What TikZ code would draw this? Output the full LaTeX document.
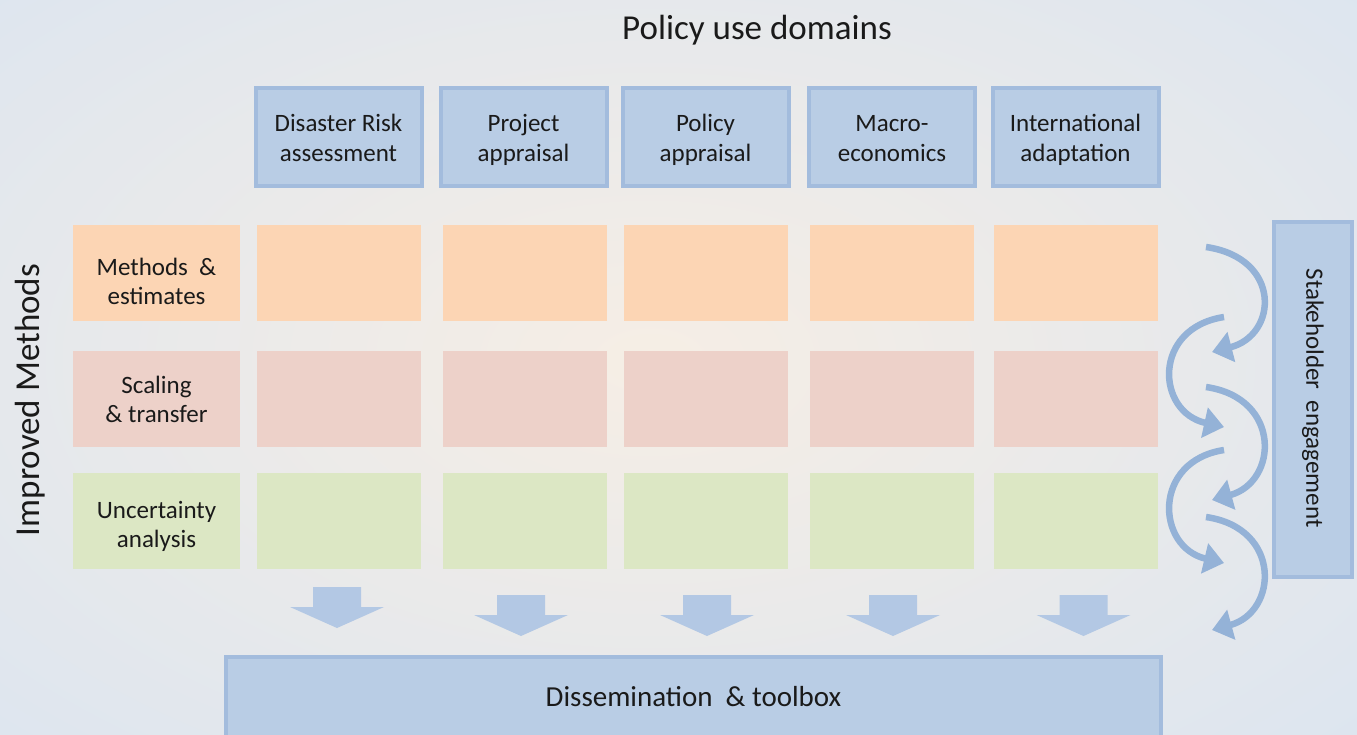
\documentclass[tikz,border=0pt]{standalone}
\usepackage{fontspec}
\setmainfont{Carlito}
\usetikzlibrary{arrows.meta}
\definecolor{bg}{HTML}{D9E4F1}
\definecolor{glow}{HTML}{F6EEE5}
\definecolor{boxfill}{HTML}{B9CDE5}
\definecolor{boxedge}{HTML}{A3BCDD}
\definecolor{orangec}{HTML}{FCD5B4}
\definecolor{pinkc}{HTML}{EDD1C9}
\definecolor{greenc}{HTML}{DCE7C4}
\definecolor{arrowc}{HTML}{B3C8E4}
\definecolor{curvec}{HTML}{94B2D7}
\definecolor{txt}{HTML}{1A1A1A}
\newcommand{\topstrut}{\rule{0pt}{29pt}}
\tikzset{
  bluebox/.style={fill=boxfill, draw=boxedge, line width=4pt, inner sep=0pt, align=center, text=txt},
  domainbox/.style={bluebox, minimum width=166pt, minimum height=98pt, font=\fontsize{25}{30}\selectfont},
  cellbox/.style={minimum width=164pt, minimum height=96pt, inner sep=0pt},
  rowlabel/.style={cellbox, minimum width=167pt},
  rowtext/.style={align=center, text=txt, inner sep=0pt, font=\fontsize{25}{29}\selectfont},
  downarrow/.style={fill=arrowc},
  curvedarrow/.style={draw=curvec, line width=6.5pt, -{Triangle[length=20pt,width=30pt]}}
}
\begin{document}
\begin{tikzpicture}[x=1pt,y=-1pt]
\useasboundingbox (0,0) rectangle (1357,734);
\fill[bg] (0,0) rectangle (1357,734);
\begin{scope}
\clip (0,0) rectangle (1357,734);
\shade[inner color=glow, outer color=bg] (650,360) ellipse (1100 and 640);
\end{scope}

% titles
\node[text=txt, font=\fontsize{35}{40}\selectfont] (title) at (757,30) {Policy use domains};
\node[text=txt, font=\fontsize{35}{40}\selectfont, rotate=90] (improved) at (30,400) {Improved Methods};

% domain boxes
\node[domainbox] (d1) at (338.5,136.5) {\topstrut Disaster Risk\\assessment\strut};
\node[domainbox] (d2) at (523.5,136.5) {\topstrut Project\\appraisal\strut};
\node[domainbox] (d3) at (705.5,136.5) {\topstrut Policy\\appraisal\strut};
\node[domainbox] (d4) at (892,136.5) {\topstrut Macro-\\economics\strut};
\node[domainbox] (d5) at (1075.5,136.5) {\topstrut International\\adaptation\strut};

% row labels
\node[rowlabel, fill=orangec] (r1) at (156.5,273) {};
\node[rowlabel, fill=pinkc] (r2) at (156.5,398.5) {};
\node[rowlabel, fill=greenc] (r3) at (156.5,520.5) {};
\node[rowtext] (r1t) at (156.5,284) {\strut Methods~~\&\\estimates\strut};
\node[rowtext] (r2t) at (156.5,402) {\strut Scaling\\\& transfer\strut};
\node[rowtext] (r3t) at (156.5,527.5) {\strut Uncertainty\\analysis\strut};

% cells
\foreach \x [count=\i] in {338.5,524.5,705.5,891.5,1075.5} {
  \node[cellbox, fill=orangec] (c1\i) at (\x,273) {};
  \node[cellbox, fill=pinkc] (c2\i) at (\x,398.5) {};
  \node[cellbox, fill=greenc] (c3\i) at (\x,520.5) {};
}

% down arrows
\foreach \cx/\top in {337/587, 521/595, 707/595, 893/595, 1083.5/595} {
  \fill[downarrow] (\cx-24,\top) -- (\cx+24,\top) -- (\cx+24,\top+20) -- (\cx+47,\top+20)
     -- (\cx,\top+41) -- (\cx-47,\top+20) -- (\cx-24,\top+20) -- cycle;
}

% dissemination box
\node[bluebox, minimum width=935pt, minimum height=90pt, anchor=north] (diss) at (693.5,655) {};
\node[text=txt, font=\fontsize{29}{34}\selectfont] (disstext) at (693.5,697) {Dissemination~~\& toolbox};

% stakeholder box
\node[bluebox, minimum width=78pt, minimum height=355pt] (stake) at (1313,399) {};
\node[text=txt, font=\fontsize{25}{30}\selectfont, rotate=-90] (staketext) at (1313,398) {Stakeholder~~engagement};

% curved arrows
\coordinate (a1s) at (1206,247); \coordinate (a1e) at (1212,352);
\coordinate (a2s) at (1224,317); \coordinate (a2e) at (1224,427);
\coordinate (a3s) at (1206,387); \coordinate (a3e) at (1212,500);
\coordinate (a4s) at (1224,450); \coordinate (a4e) at (1224,563);
\coordinate (a5s) at (1206,517); \coordinate (a5e) at (1212,630);
\draw[curvedarrow] (a1s) .. controls (1282,258) and (1278,335) .. (a1e);
\draw[curvedarrow] (a2s) .. controls (1152,328) and (1156,412) .. (a2e);
\draw[curvedarrow] (a3s) .. controls (1282,398) and (1278,482) .. (a3e);
\draw[curvedarrow] (a4s) .. controls (1152,461) and (1156,547) .. (a4e);
\draw[curvedarrow] (a5s) .. controls (1282,528) and (1278,612) .. (a5e);
\end{tikzpicture}
\end{document}
